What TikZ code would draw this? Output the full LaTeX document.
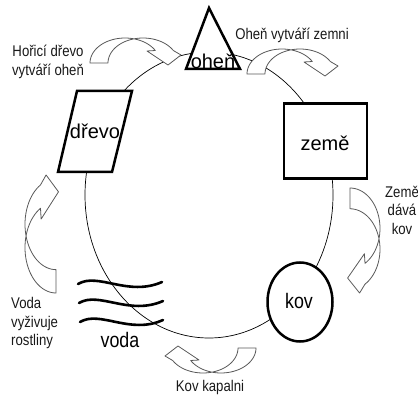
\documentclass[tikz,border=0pt]{standalone}
\usepackage{fontspec}
\setmainfont{Liberation Sans}
\newfontfamily\narrowfont[FakeStretch=0.85]{Liberation Sans}
\usetikzlibrary{shapes.geometric}
\tikzset{
  curvarrow/.pic={
    \draw[arrowline] plot[domain=180:330,samples=36,variable=\t] ({35*cos(\t)},{25*sin(\t)})
      -- (22,-12) -- (43,2) -- (56,-8)
      -- plot[domain=330:180,samples=36,variable=\t] ({18+35*cos(\t)},{25*sin(\t)}) -- cycle;
  }
}
\begin{document}
\begin{tikzpicture}[x=1pt,y=-1pt,
  ring/.style={line width=0.7pt},
  arrowline/.style={draw=black!65, line width=0.8pt, fill=white, line join=round},
  heavy/.style={line width=2.5pt, fill=white},
  wave/.style={line width=2.6pt, line cap=round},
  bigtext/.style={font=\fontsize{20}{24}\selectfont, inner sep=0pt},
  midtext/.style={font=\narrowfont\fontsize{21}{24}\selectfont, inner sep=0pt},
  lbl/.style={font=\narrowfont\fontsize{15.5}{18.5}\selectfont, inner sep=0pt, text=black!90}
]
\useasboundingbox (0,0) rectangle (418,398);
% cycle ring
\draw[ring] (209,195) ellipse[x radius=124, y radius=143];
% curved block arrows
\pic at (125,63) {curvarrow};
\pic at (282,74) {curvarrow};
\pic[rotate=-90, xscale=1.154, yscale=1.2] at (350,228.4) {curvarrow};
\pic[rotate=180] at (221,348) {curvarrow};
\pic[rotate=90, xscale=1.297, yscale=1.24] at (56,247.6) {curvarrow};
% fire
\draw[heavy] (209,8) -- (240,69) -- (186,69) -- cycle;
\node[bigtext] (ohen) at (213,61) {oheň};
% earth
\node[heavy, draw, rectangle, minimum width=83pt, minimum height=75pt, inner sep=0pt] (zemebox) at (325.5,141) {};
\node[bigtext] (zeme) at (325,143) {země};
% wood
\draw[heavy] (77,91) -- (132,91) -- (112,172) -- (58,172) -- cycle;
\node[bigtext] (drevo) at (95,131) {dřevo};
% metal
\node[heavy, draw, ellipse, minimum width=65pt, minimum height=79pt, inner sep=0pt] (kovbox) at (300,302) {};
\node[midtext] (kov) at (299,301) {kov};
% water
\draw[wave] (78,284) .. controls (98,272) and (128,297) .. (162,282);
\draw[wave] (79,303) .. controls (99,291) and (129,316) .. (163,301);
\draw[wave] (80,322) .. controls (100,310) and (130,335) .. (163,320);
\node[midtext] (voda) at (120,340) {voda};
% labels
\node[lbl, align=center] (l1) at (48,62) {Hořicí dřevo\\vytváří oheň};
\node[lbl] (l2) at (292,35) {Oheň vytváří zemni};
\node[lbl, align=center] (l3) at (402,210) {Země\\dává\\kov};
\node[lbl, align=left, anchor=west] (l4) at (11,323) {Voda\\vyživuje\\rostliny};
\node[lbl] (l5) at (210,387) {Kov kapalni};
\end{tikzpicture}
\end{document}
